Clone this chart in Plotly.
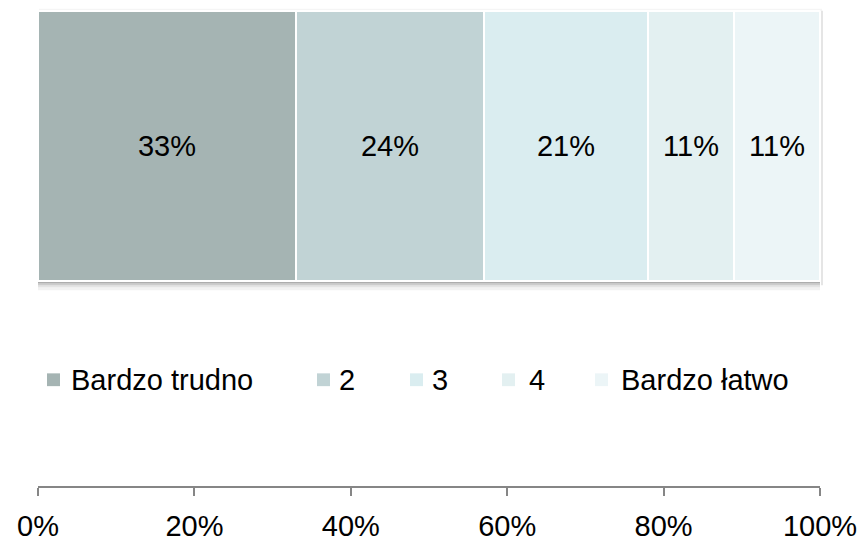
import plotly.graph_objects as go

# ---- data ----
series_names = ["Bardzo trudno", "2", "3", "4", "Bardzo łatwo"]
series_values = [33, 24, 21, 11, 11]
series_colors = ["#A5B4B3", "#C1D3D5", "#DAEDF0", "#E3F0F1", "#ECF5F7"]
tick_values = [0, 20, 40, 60, 80, 100]
tick_labels = ["0%", "20%", "40%", "60%", "80%", "100%"]

W, H = 863, 542
ML, MR, MT, MB = 38, 43, 0, 48
PW = W - ML - MR
PH = H - MT - MB
FONT = "Liberation Sans, Arial, sans-serif"
FS = 29

def px_x(p):
    return (p - ML) / PW

def px_y(p):
    return (H - MB - p) / PH

bar_center = px_y((11 + 286) / 2)
bar_width = (286 - 11) / PH

fig = go.Figure()
for name, val, col in zip(series_names, series_values, series_colors):
    fig.add_trace(go.Bar(
        x=[val], y=[bar_center], width=[bar_width], orientation="h",
        name=name, marker=dict(color=col, line=dict(color="white", width=2)),
        text=[f"{val}%"], textposition="inside", insidetextanchor="middle",
        textfont=dict(family=FONT, size=FS, color="black"),
        constraintext="none", showlegend=False, hoverinfo="x+name",
    ))

total = sum(series_values)
shapes = []
# soft shadow under the bar
for y0, y1, a in [(286, 288, 0.32), (288, 290, 0.2), (290, 292, 0.11), (292, 295, 0.05)]:
    shapes.append(dict(type="rect", xref="x", yref="paper", x0=0, x1=total,
                       y0=px_y(y1), y1=px_y(y0), line=dict(width=0),
                       fillcolor=f"rgba(0,0,0,{a})", layer="below"))
# faint shadow on the right edge and top
shapes.append(dict(type="rect", xref="paper", yref="paper", x0=px_x(821), x1=px_x(823),
                   y0=px_y(290), y1=px_y(11), line=dict(width=0),
                   fillcolor="rgba(0,0,0,0.10)", layer="below"))
shapes.append(dict(type="rect", xref="paper", yref="paper", x0=px_x(39), x1=px_x(822),
                   y0=px_y(11), y1=px_y(9), line=dict(width=0),
                   fillcolor="rgba(0,0,0,0.04)", layer="below"))

# manual legend
marker_left = [47, 317, 410, 502, 595]
text_left = [69, 337, 430, 527, 619]
leg_y = 386
msz = 13
annotations = []
for name, col, mx, tx in zip(series_names, series_colors, marker_left, text_left):
    shapes.append(dict(type="rect", xref="paper", yref="paper",
                       x0=px_x(mx), x1=px_x(mx + msz),
                       y0=px_y(leg_y + msz / 2), y1=px_y(leg_y - msz / 2),
                       line=dict(width=0), fillcolor=col))
    annotations.append(dict(xref="paper", yref="paper", x=px_x(tx), y=px_y(leg_y),
                            xanchor="left", yanchor="middle", showarrow=False,
                            text=name, font=dict(family=FONT, size=FS, color="black")))

fig.update_layout(
    width=W, height=H, barmode="stack",
    margin=dict(l=ML, r=MR, t=MT, b=MB),
    paper_bgcolor="white", plot_bgcolor="white",
    bargap=0,
    xaxis=dict(range=[0, 100], tickvals=tick_values, ticktext=tick_labels,
               showgrid=False, zeroline=False, showline=True, linecolor="#868686",
               linewidth=2, ticks="outside", ticklen=8, tickwidth=2, tickcolor="#868686",
               ticklabelstandoff=5,
               tickfont=dict(family=FONT, size=FS, color="black"), fixedrange=True),
    yaxis=dict(range=[0, 1], visible=False, fixedrange=True),
    shapes=shapes, annotations=annotations,
    showlegend=False,
)

fig.write_html("out.html", config={"displayModeBar": False},
               post_script="document.body.style.margin='0';document.body.style.overflow='hidden';")
